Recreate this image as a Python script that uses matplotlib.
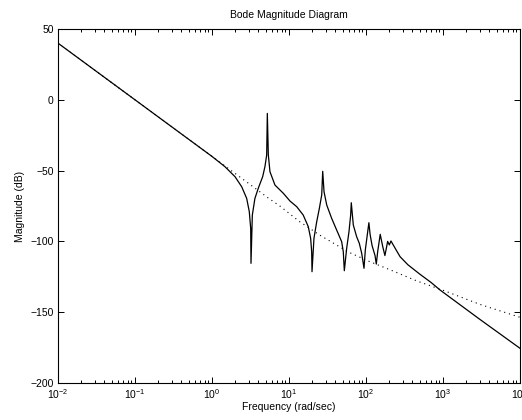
import numpy as np
import matplotlib
matplotlib.use("Agg")
import matplotlib.pyplot as plt
from matplotlib.ticker import LogLocator, NullFormatter

plt.rcParams["font.family"] = ["Liberation Sans", "DejaVu Sans"]
plt.rcParams["mathtext.default"] = "regular"

# full model magnitude
freq_full = [0.01, 0.1, 1, 1.47, 1.99, 2.43, 2.82, 3.05, 3.18, 3.21, 3.34, 3.61, 3.99,
             4.55, 4.87, 5.13, 5.23, 5.39, 5.66, 6.57, 8.43, 10.3, 12.6, 15.3, 17.8,
             19.1, 19.7, 19.9, 21.1, 22.9, 24.8, 26.6, 27.4, 28.5, 30.9, 35.8, 41.6,
             48.3, 50.7, 52.3, 56.1, 60.1, 63.2, 64.4, 68.4, 75.6, 81.8, 87.9, 94.2,
             98, 103, 109, 113, 120, 131, 136, 142, 153, 165, 176, 185,
             191, 201, 211, 240, 277, 350, 502, 700, 914, 3000, 10000]
mag_full = [40, 0, -40, -47.2, -54.3, -61.4, -69.6, -79, -90.8, -115.5, -81.4, -69.6, -62.5,
            -54.3, -47.2, -39, -9.6, -39, -50.8, -60.2, -66, -71.5, -75.5, -81.4, -89.6,
            -97.8, -107.3, -121.4, -97.8, -86.1, -76.6, -67.2, -50.5, -64.9, -74.3, -83.7, -92,
            -100.2, -107.3, -120.7, -104.9, -93.2, -81.4, -72.7, -88.4, -96.7, -101.3, -108.4, -119,
            -106, -97, -86.8, -95, -103, -110, -116, -107, -95, -103.7, -110, -104,
            -100, -102.5, -99.7, -105, -110.8, -116.5, -123.2, -129, -134.3, -155, -175.5]

# reduced model magnitude (dotted)
freq_red = [0.01, 1, 3.12, 5.39, 7.6, 13.7, 25, 37.9, 58.9, 112, 227, 277, 461, 1000, 3027, 10000]
mag_red = [40, -40, -59.8, -69.4, -75, -86, -95.5, -101.3, -107.5, -114.3, -121, -123,
           -128, -134.5, -144.5, -153.6]

xticks = [1e-2, 1e-1, 1e0, 1e1, 1e2, 1e3, 1e4]
yticks = [-200, -150, -100, -50, 0, 50]

fig = plt.figure(figsize=(5.22, 4.2), dpi=100)
ax = fig.add_axes([58 / 522, 1 - 383 / 420, (520 - 58) / 522, (383 - 29) / 420])

ax.semilogx(freq_red, mag_red, color="black", lw=0.8, linestyle=(0, (1, 3.5)))
ax.semilogx(freq_full, mag_full, color="black", lw=0.9)

ax.set_xlim(1e-2, 1e4)
ax.set_ylim(-200, 50)
ax.set_yticks(yticks)
ax.set_xticks(xticks)
ax.xaxis.set_minor_locator(LogLocator(base=10, subs=np.arange(2, 10), numticks=20))
ax.xaxis.set_minor_formatter(NullFormatter())

ax.tick_params(which="both", direction="in", top=True, right=True, labelsize=7.5, width=0.7)
ax.tick_params(which="major", length=4, pad=3)
ax.tick_params(which="minor", length=2.2)
for s in ax.spines.values():
    s.set_linewidth(0.8)

ax.set_title("Bode Magnitude Diagram", fontsize=7.5, pad=8)
ax.set_xlabel("Frequency (rad/sec)", fontsize=7.5, labelpad=1)
ax.set_ylabel("Magnitude (dB)", fontsize=7.5, labelpad=4)

fig.savefig("out.png", dpi=100)
